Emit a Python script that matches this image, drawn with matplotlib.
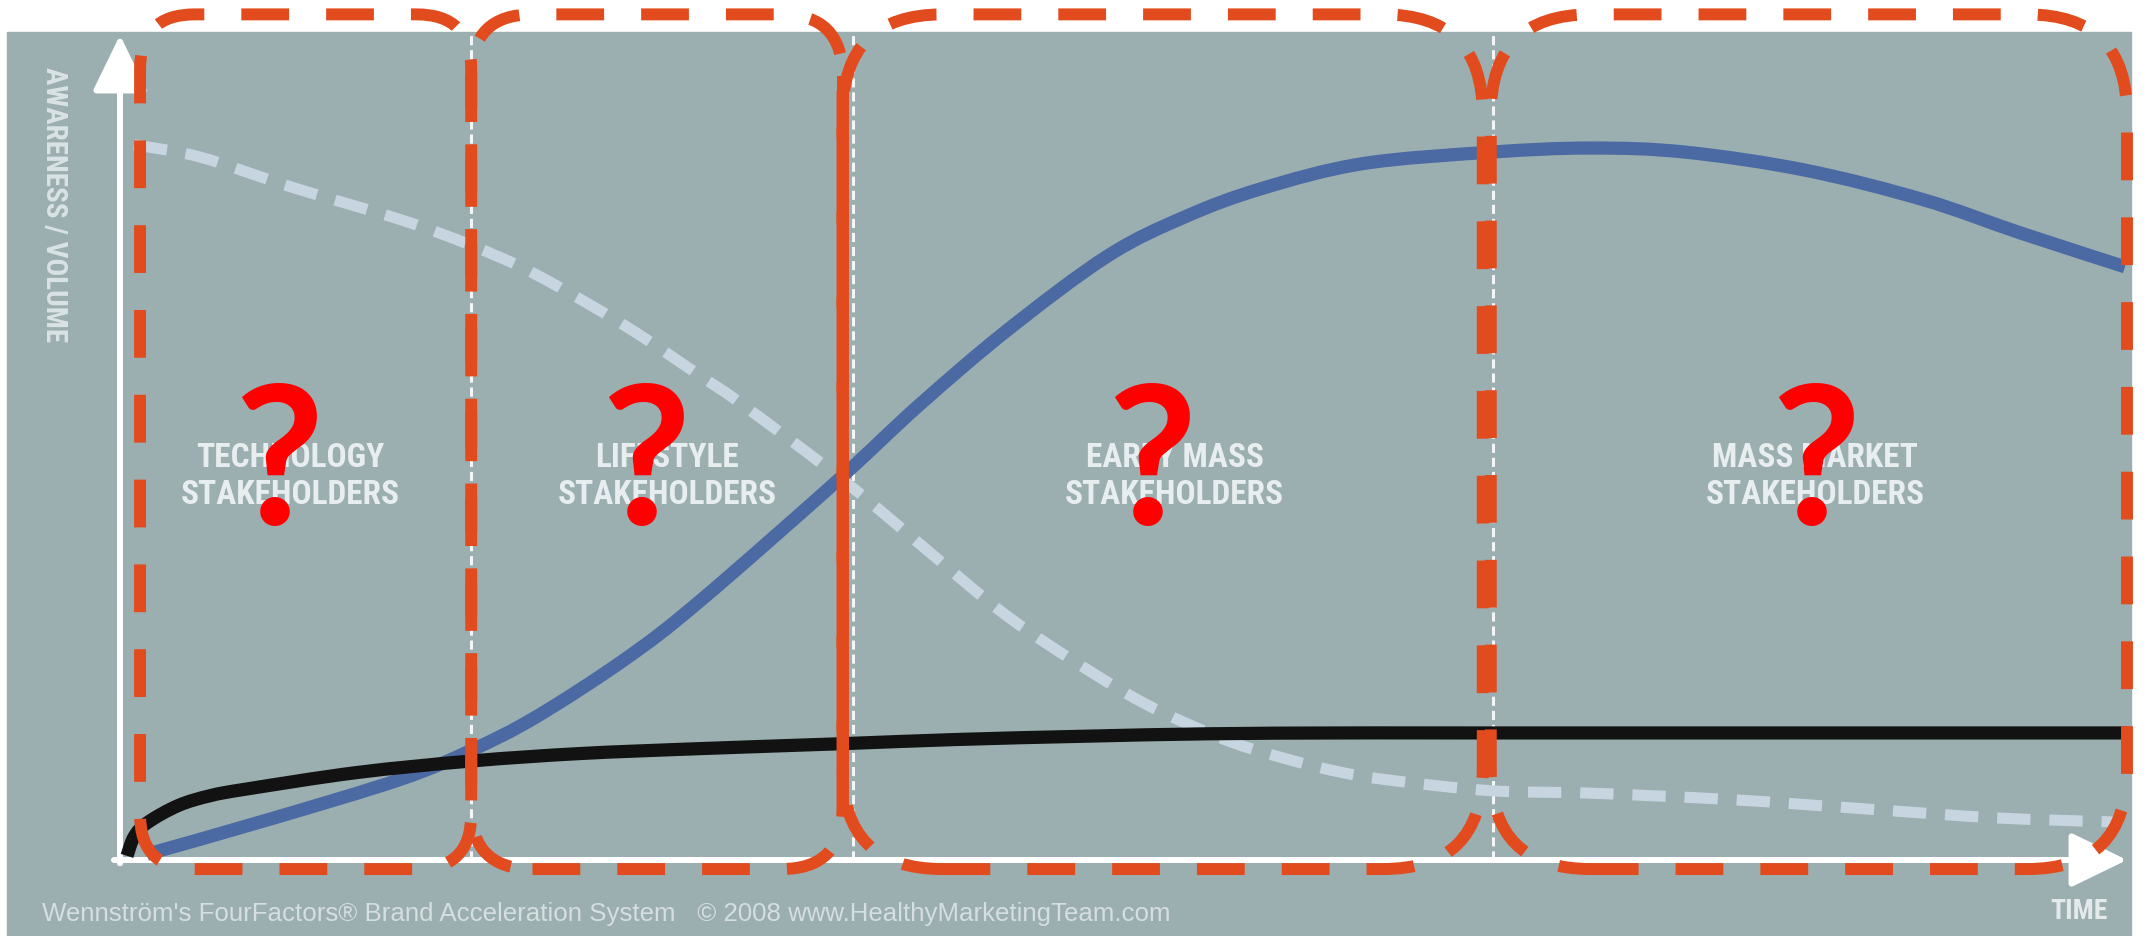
import matplotlib
matplotlib.use("Agg")
import numpy as np
import matplotlib.pyplot as plt
from matplotlib.patches import FancyBboxPatch, Rectangle, PathPatch
from matplotlib.path import Path
from matplotlib import font_manager as fm

# ---------------- data ----------------
stage_labels = ["TECHNOLOGY\nSTAKEHOLDERS", "LIFESTYLE\nSTAKEHOLDERS",
                "EARLY MASS\nSTAKEHOLDERS", "MASS MARKET\nSTAKEHOLDERS"]
stage_label_t = [8.5, 27.25, 52.55, 84.45]
stage_edges = [0.0, 17.5, 36.5, 68.4, 100.0]          # time units
box_left = [1.0, 17.5, 36.0, 68.3]
box_right = [17.5, 36.0, 67.9, 100.0]
box_bottom, box_top = -1.1, 102.5
qmark_t = [7.9, 26.2, 51.4, 84.5]

# solid blue S-curve
blue_t = [1.35, 7.4, 14.0, 17.5, 20.7, 25.2, 28.9, 35.8, 39.8, 44.2, 49.2,
          53.1, 56.9, 61.9, 68.3, 73.3, 78.0, 84.0, 89.9, 94.7, 99.9]
blue_v = [0.7, 4.9, 9.8, 13.3, 17.3, 24.4, 31.4, 46.1, 55.1, 64.2, 73.2,
          78.0, 81.4, 84.4, 85.8, 86.3, 85.8, 83.6, 80.0, 76.0, 71.9]

# black curve
black_t = [0.35, 0.7, 1.35, 2.9, 4.5, 6.3, 11.8, 17.5, 22.9, 28.9, 36.0,
           41.6, 48.0, 54.3, 61.0, 68.3, 100.0]
black_v = [0.5, 2.8, 4.5, 6.6, 7.8, 8.6, 10.6, 12.0, 12.9, 13.5, 14.1,
           14.6, 15.0, 15.3, 15.4, 15.4, 15.4]

# light dashed declining curve
dash_t = [0.7, 4.0, 8.5, 14.0, 17.5, 20.7, 25.2, 28.9, 30.9, 36.0, 39.9,
          43.7, 46.7, 50.5, 53.1, 55.6, 58.2, 60.7, 63.2, 68.3, 73.3, 80.4,
          87.5, 93.5, 99.5]
dash_v = [86.7, 85.2, 81.6, 77.6, 74.5, 71.0, 64.7, 58.7, 55.4, 46.1, 38.2,
          30.5, 25.4, 19.7, 16.6, 14.1, 12.2, 10.7, 9.7, 8.4, 8.1, 7.3,
          6.1, 5.1, 4.6]

y_label = "AWARENESS / VOLUME"
x_label = "TIME"
footer = "Wennström's FourFactors\u00ae Brand Acceleration System   \u00a9 2008 www.HealthyMarketingTeam.com"

# ---------------- style ----------------
W, H = 2148, 936
panel_c = "#9baeb0"
orange = "#e24b1d"
blue_c = "#4b6aa4"
light_c = "#c6d5df"
text_c = "#e8eef0"


def pick(fams):
    names = {f.name for f in fm.fontManager.ttflist}
    for f in fams:
        if f in names:
            return f
    return "DejaVu Sans"


cond_font = pick(["Liberation Sans Narrow", "Roboto Condensed", "Open Sans Condensed",
                  "Roboto", "Liberation Sans"])
sans_font = pick(["Liberation Sans", "Arial", "DejaVu Sans"])
q_font = pick(["Lato", "Open Sans", "DejaVu Sans"])


def smooth_path(xs, ys):
    """Catmull-Rom curve through the given points, as cubic Bezier path."""
    p = np.column_stack([xs, ys]).astype(float)
    n = len(p)
    verts = [p[0]]
    codes = [Path.MOVETO]
    for i in range(n - 1):
        p0 = p[i - 1] if i > 0 else p[i]
        p1, p2 = p[i], p[i + 1]
        p3 = p[i + 2] if i + 2 < n else p[i + 1]
        c1 = p1 + (p2 - p0) / 6.0
        c2 = p2 - (p3 - p1) / 6.0
        verts += [c1, c2, p2]
        codes += [Path.CURVE4] * 3
    return Path(np.array(verts), codes)


fig = plt.figure(figsize=(W / 100, H / 100), dpi=100)
fig.patch.set_facecolor("white")
fig.patches.append(Rectangle((7 / W, 0), (2131 - 7) / W, (936 - 32) / H,
                             transform=fig.transFigure, color=panel_c, zorder=-5))

ax_l, ax_b, ax_w, ax_h = 120, 76, 2007, 825
ax = fig.add_axes([ax_l / W, ax_b / H, ax_w / W, ax_h / H])
ax.set_zorder(1)
ax.set_xlim(0, 100)
ax.set_ylim(0, 100)
ax.axis("off")
ax.patch.set_alpha(0)
ppx = ax_w / 100.0
ppy = ax_h / 100.0

# stage dividers
for e in stage_edges[1:-1]:
    ax.plot([e, e], [0, 100.4], color="white", lw=2.2, dashes=(3, 1.6),
            clip_on=False, zorder=1, alpha=0.9)

# axes arrows
arrow_kw = dict(arrowstyle="-|>,head_length=3.5,head_width=1.7", mutation_scale=10,
                lw=4.3, color="white", shrinkA=0, shrinkB=0)
ax.annotate("", xy=(100, 0), xytext=(-0.3, 0), arrowprops=arrow_kw,
            annotation_clip=False, zorder=2)
ax.annotate("", xy=(0, 100), xytext=(0, -0.4), arrowprops=arrow_kw,
            annotation_clip=False, zorder=2)

# curves (smooth lines through the read points)
ax.add_patch(PathPatch(smooth_path(dash_t, dash_v), fill=False, ec=light_c, lw=8,
                       linestyle=(0, (3.0, 1.7)), capstyle="butt",
                       clip_on=False, zorder=3))
ax.add_patch(PathPatch(smooth_path(blue_t, blue_v), fill=False, ec=blue_c, lw=9.5,
                       capstyle="butt", joinstyle="round", clip_on=False, zorder=4))
ax.add_patch(PathPatch(smooth_path(black_t, black_v), fill=False, ec="#121212", lw=9.5,
                       capstyle="butt", joinstyle="round", clip_on=False, zorder=5))

# stage labels
for i, lab in enumerate(stage_labels):
    ax.text(stage_label_t[i], 46.5, lab, ha="center", va="center",
            multialignment="center", fontsize=24, fontweight="bold",
            family=cond_font, color=text_c, linespacing=1.2, zorder=6)

# axis labels & footer
ax.text(-3.3, 79.4, y_label, rotation=270, ha="center", va="center",
        fontsize=21, fontweight="bold", family=cond_font, color="#d9e2e4", zorder=6)
ax.text(97.6, -6.2, x_label, ha="center", va="center", fontsize=20,
        fontweight="bold", family=cond_font, color="#e4eaec", zorder=6)
ax.text(-3.9, -7.4, footer, ha="left", va="baseline", fontsize=18.6,
        family=sans_font, color="#d5dee0", zorder=6)

# orange highlight boxes with question marks
for i in range(4):
    l, r = box_left[i], box_right[i]
    wpx = (r - l) * ppx
    rad_px = min(0.165 * wpx, 100)
    patch = FancyBboxPatch((l, box_bottom), r - l, box_top - box_bottom,
                           boxstyle=f"round,pad=0,rounding_size={rad_px / ppx}",
                           mutation_aspect=ppx / ppy, fill=False, ec=orange,
                           lw=8.6, linestyle=(0, (4, 3.1)), clip_on=False, zorder=7)
    ax.add_patch(patch)
    ax.text(qmark_t[i], 40.6, "?", ha="center", va="baseline", fontsize=140,
            fontweight="bold", family=q_font, color="#ff0000", zorder=8)

# shared edge of boxes 2 and 3 appears solid
rad2 = min(0.165 * (box_right[1] - box_left[1]) * ppx, 100)
ax.plot([box_right[1], box_right[1]],
        [box_bottom + rad2 / ppy, box_top - rad2 / ppy],
        color=orange, lw=8.6, solid_capstyle="butt", clip_on=False, zorder=7)

fig.savefig("out.png", dpi=100, facecolor=fig.get_facecolor())
